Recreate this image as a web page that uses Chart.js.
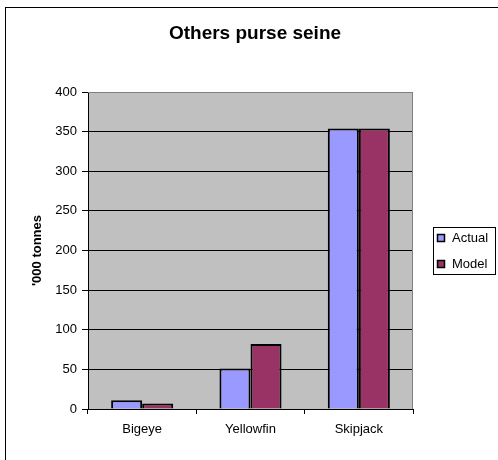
<!DOCTYPE html>
<html>
<head>
<meta charset="utf-8">
<script src="https://cdn.jsdelivr.net/npm/chart.js@4/dist/chart.umd.min.js"></script>
<style>
  html, body { margin: 0; padding: 0; background: #fff; }
  #wrap { width: 498px; height: 460px; position: relative; }
</style>
</head>
<body>
<div id="wrap"><canvas id="c" width="498" height="460"></canvas></div>
<script>
// Catch by species, thousand tonnes
const species = ['Bigeye', 'Yellowfin', 'Skipjack'];
const actual = [11, 51, 354];
const model = [7, 82, 354];
const seriesNames = ['Actual', 'Model'];
const yTicks = [0, 50, 100, 150, 200, 250, 300, 350, 400];
const chartTitle = 'Others purse seine';

const FONT = "'Liberation Sans', Arial, sans-serif";

// Page frame, heading, grey plot background and plot border
const framePlugin = {
  id: 'frame',
  beforeDraw(chart) {
    const { ctx, chartArea: a } = chart;
    ctx.save();
    ctx.fillStyle = '#ffffff';
    ctx.fillRect(0, 0, chart.width, chart.height);
    ctx.strokeStyle = '#000000';
    ctx.lineWidth = 1;
    ctx.strokeRect(5.5, 7.5, chart.width + 20, chart.height + 20);
    ctx.fillStyle = '#c0c0c0';
    ctx.fillRect(a.left, a.top, a.right - a.left, a.bottom - a.top);
    ctx.fillStyle = '#000000';
    ctx.font = 'bold 19px ' + FONT;
    ctx.textAlign = 'center';
    ctx.textBaseline = 'middle';
    ctx.fillText(chartTitle, 255, 34);
    ctx.restore();
  },
  afterDatasetsDraw(chart) {
    const { ctx, chartArea: a } = chart;
    ctx.save();
    ctx.strokeStyle = '#808080';
    ctx.lineWidth = 1;
    ctx.beginPath();
    ctx.moveTo(a.left, a.top + 0.5);
    ctx.lineTo(a.right - 0.5, a.top + 0.5);
    ctx.lineTo(a.right - 0.5, a.bottom);
    ctx.stroke();
    ctx.restore();
  }
};

// Boxed legend on the right
const boxLegend = {
  id: 'boxLegend',
  afterDraw(chart) {
    const { ctx } = chart;
    const x = 433, y = 227, w = 62, h = 47;
    ctx.save();
    ctx.fillStyle = '#ffffff';
    ctx.fillRect(x, y, w, h);
    ctx.strokeStyle = '#000000';
    ctx.lineWidth = 1;
    ctx.strokeRect(x + 0.5, y + 0.5, w, h);
    ctx.font = '13px ' + FONT;
    ctx.textBaseline = 'middle';
    chart.data.datasets.forEach((ds, i) => {
      const cy = y + 11 + i * 26;
      ctx.fillStyle = ds.backgroundColor;
      ctx.fillRect(x + 4.5, cy - 3.5, 7, 7);
      ctx.strokeStyle = '#000000';
      ctx.lineWidth = 1.5;
      ctx.strokeRect(x + 4.5, cy - 3.5, 7, 7);
      ctx.fillStyle = '#000000';
      ctx.fillText(ds.label, x + 19, cy + 0.5);
    });
    ctx.restore();
  }
};

new Chart(document.getElementById('c'), {
  type: 'bar',
  data: {
    labels: species,
    datasets: [
      { label: seriesNames[0], data: actual, backgroundColor: '#9999ff', borderColor: '#000000', borderWidth: 2 },
      { label: seriesNames[1], data: model, backgroundColor: '#993366', borderColor: '#000000', borderWidth: 2 }
    ]
  },
  options: {
    responsive: false,
    animation: false,
    layout: { padding: { left: 6, right: 85, top: 92, bottom: 0 } },
    datasets: { bar: { categoryPercentage: 0.573, barPercentage: 1 } },
    plugins: {
      legend: { display: false },
      tooltip: { enabled: false },
      title: { display: false }
    },
    scales: {
      x: {
        grid: { display: true, drawOnChartArea: false, drawTicks: true, tickLength: 5, color: '#000000', offset: true },
        border: { display: true, color: '#000000', width: 1 },
        ticks: { color: '#000000', font: { family: FONT, size: 13 }, padding: 8, maxRotation: 0 },
        afterFit(s) { s.height = 51; }
      },
      y: {
        min: 0,
        max: 400,
        afterBuildTicks(s) { s.ticks = yTicks.map(v => ({ value: v })); },
        grid: {
          color: ctx => (ctx.tick && ctx.tick.value === 400 ? '#808080' : '#000000'),
          lineWidth: 1,
          tickLength: 6,
          tickColor: '#000000'
        },
        border: { display: true, color: '#000000', width: 1 },
        ticks: { color: '#000000', font: { family: FONT, size: 13 }, padding: 5 },
        title: {
          display: true,
          text: "'000 tonnes",
          color: '#000000',
          font: { family: FONT, size: 13, weight: 'bold' },
          padding: { top: 24, bottom: 0 }
        },
        afterFit(s) { s.width = 82; }
      }
    }
  },
  plugins: [framePlugin, boxLegend]
});
</script>
</body>
</html>
